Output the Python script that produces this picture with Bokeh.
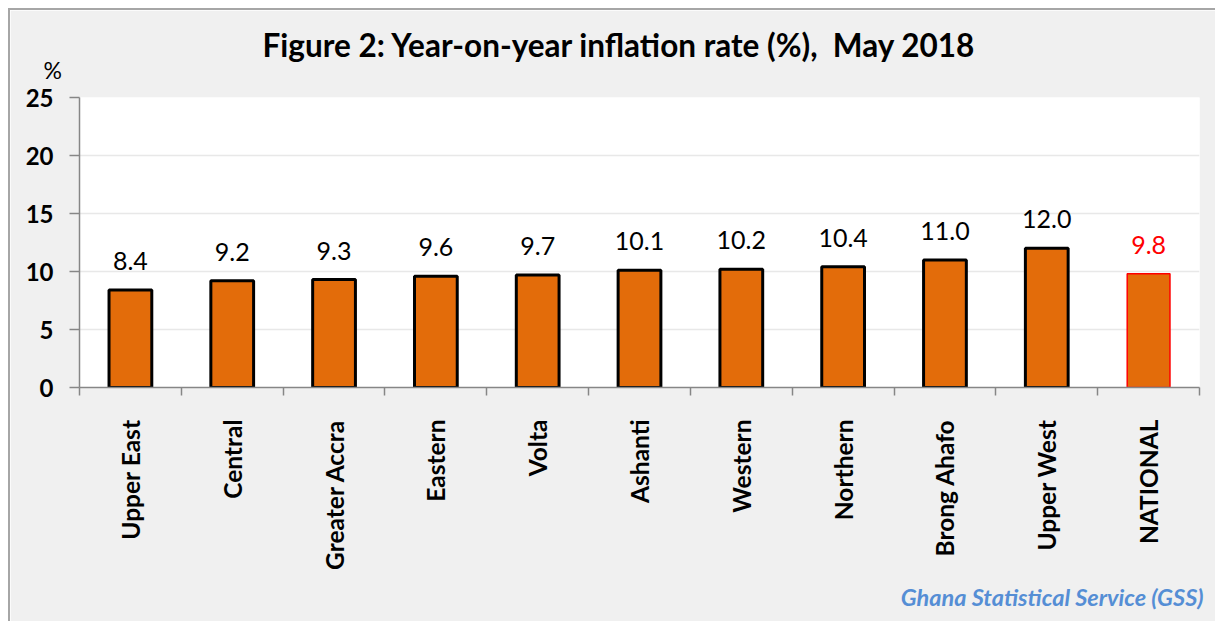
import math
from bokeh.plotting import figure
from bokeh.models import (Range1d, FixedTicker, Title, ColumnDataSource)
from bokeh.core.properties import value
from bokeh.embed import file_html
from bokeh.resources import INLINE

categories = ["Upper East", "Central", "Greater Accra", "Eastern", "Volta",
              "Ashanti", "Western", "Northern", "Brong Ahafo", "Upper West",
              "NATIONAL"]
values = [8.4, 9.2, 9.3, 9.6, 9.7, 10.1, 10.2, 10.4, 11.0, 12.0, 9.8]
y_ticks = [0, 5, 10, 15, 20, 25]
title_text = "Figure 2: Year-on-year inflation rate (%),\u00a0 May 2018"
source_text = "Ghana Statistical Service (GSS)"

FONT = "Lato"
BAR = "#E36C0A"
AXIS = "#868686"

n = len(categories)
centers = [i + 0.5 for i in range(n)]
is_nat = [c == "NATIONAL" for c in categories]
src = ColumnDataSource(dict(
    x=centers,
    val=values,
    label=[f"{v:.1f}" for v in values],
    line=["#FF0000" if k else "#000000" for k in is_nat],
    lw=[1.5 if k else 3 for k in is_nat],
    tcolor=["#FF0000" if k else "#000000" for k in is_nat],
))

p = figure(x_range=Range1d(0, n), y_range=Range1d(0, y_ticks[-1]),
           width=1207, height=613, output_backend="svg", toolbar_location=None,
           min_border_left=69, min_border_right=18,
           min_border_top=87, min_border_bottom=236)
p.styles = {"margin-top": "8px", "margin-left": "8px",
            "border-top": "2px solid #a6a6a6", "border-left": "2px solid #a6a6a6"}
p.border_fill_color = "#f0f0f0"
p.background_fill_color = "#ffffff"
p.outline_line_color = None

xax = p.xaxis[0]
xax.ticker = FixedTicker(ticks=centers, minor_ticks=list(range(n + 1)))
xax.major_label_overrides = {c: name for c, name in zip(centers, categories)}
xax.major_tick_line_color = None
xax.major_tick_out = 0
xax.major_tick_in = 0
xax.minor_tick_out = 8
xax.minor_tick_in = 0
xax.minor_tick_line_color = AXIS
xax.minor_tick_line_width = 1.5
xax.axis_line_color = AXIS
xax.axis_line_width = 1.5
xax.major_label_orientation = math.pi / 2
xax.major_label_standoff = 24
xax.major_label_text_font = FONT
xax.major_label_text_font_style = "bold"
xax.major_label_text_font_size = "24.5px"
xax.major_label_text_color = "#000000"

yax = p.yaxis[0]
yax.ticker = FixedTicker(ticks=y_ticks)
yax.major_tick_out = 10
yax.major_tick_in = 0
yax.minor_tick_line_color = None
yax.axis_line_color = AXIS
yax.axis_line_width = 1.5
yax.major_tick_line_color = AXIS
yax.major_tick_line_width = 1.5
yax.major_label_standoff = 16
yax.major_label_text_font = FONT
yax.major_label_text_font_style = "bold"
yax.major_label_text_font_size = "24px"
yax.major_label_text_color = "#000000"

p.ygrid.grid_line_color = "#e8e8e8"
p.ygrid.grid_line_width = 1.5
p.xgrid.visible = False

p.vbar(x="x", top="val", width=0.42, source=src, fill_color=BAR,
       line_color="line", line_width="lw")
p.text(x="x", y="val", text="label", source=src, text_align="center",
       text_baseline="bottom", y_offset=-20, text_font=value(FONT),
       text_font_size="25px", text_color="tcolor")

p.add_layout(Title(text="%", align="left", vertical_align="top", offset=-36,
                   standoff=23, text_font=FONT, text_font_style="normal",
                   text_font_size="23px", text_color="#000000"), "above")
p.add_layout(Title(text=title_text, align="left", offset=183, standoff=-39,
                   text_font=FONT, text_font_style="bold",
                   text_font_size="31.5px", text_color="#000000"), "above")
p.add_layout(Title(text=source_text, align="right", offset=-4, standoff=17,
                   text_font=FONT, text_font_style="bold italic",
                   text_font_size="23.5px", text_color="#558ED5"), "below")

open("out.html", "w").write(file_html(p, INLINE))
